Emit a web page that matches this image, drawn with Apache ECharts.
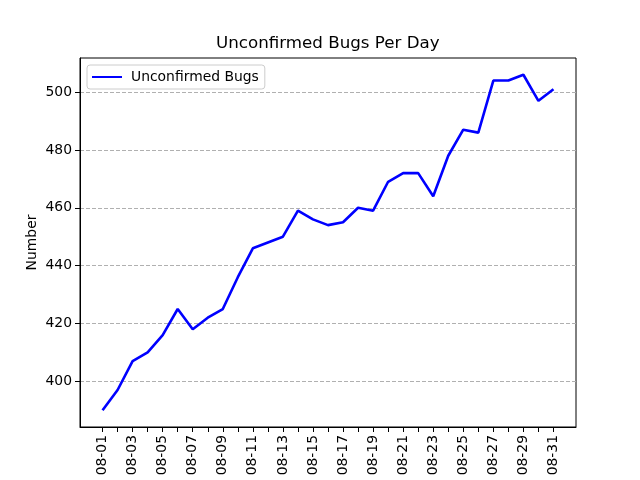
<!DOCTYPE html>
<html>
<head>
<meta charset="utf-8">
<script src="https://cdn.jsdelivr.net/npm/echarts@6/dist/echarts.min.js"></script>
<style>
  html, body { margin: 0; padding: 0; background: #fff; }
  #chart { width: 640px; height: 480px; }
</style>
</head>
<body>
<div id="chart"></div>
<script>
var days = ['08-01', '08-02', '08-03', '08-04', '08-05', '08-06', '08-07', '08-08',
  '08-09', '08-10', '08-11', '08-12', '08-13', '08-14', '08-15', '08-16', '08-17',
  '08-18', '08-19', '08-20', '08-21', '08-22', '08-23', '08-24', '08-25', '08-26',
  '08-27', '08-28', '08-29', '08-30', '08-31'];
var bugs = [390, 397, 407, 410, 416, 425, 418, 422, 425, 436, 446, 448, 450, 459,
  456, 454, 455, 460, 459, 469, 472, 472, 464, 478, 487, 486, 504, 504, 506, 497, 501];
var yTicks = [400, 420, 440, 460, 480, 500];

var font = 'DejaVu Sans';
var points = bugs.map(function(v, i) {
  return [i, v];
});
var allTicks = days.map(function(d, i) {
  return i;
});
var labelTicks = allTicks.filter(function(i) {
  return i % 2 == 0;
});

var chart = echarts.init(document.getElementById('chart'));
chart.setOption({
  animation: false,
  title: {
    text: 'Unconfirmed Bugs Per Day',
    left: 211,
    top: 30,
    textStyle: { fontFamily: font, fontSize: 16.7, fontWeight: 'normal', color: '#000' }
  },
  legend: {
    left: 87,
    top: 65,
    padding: [5, 6, 5, 5],
    borderColor: '#cccccc',
    borderWidth: 1,
    borderRadius: 3,
    itemWidth: 30,
    itemHeight: 2,
    icon: 'rect',
    itemGap: 8,
    textStyle: { fontFamily: font, fontSize: 13.9, color: '#000', padding: [0, 0, 0, 4] },
    data: ['Unconfirmed Bugs']
  },
  grid: {
    left: 80,
    right: 64,
    top: 58,
    bottom: 53,
    show: true,
    borderColor: '#000',
    borderWidth: 1,
    containLabel: false
  },
  xAxis: {
    type: 'value',
    min: -1.5,
    max: 31.5,
    axisLine: { show: true, onZero: false, lineStyle: { color: '#000', width: 1 } },
    axisTick: { show: true, length: 5, customValues: allTicks, lineStyle: { color: '#000' } },
    axisLabel: {
      customValues: labelTicks,
      rotate: 90,
      margin: 8,
      color: '#000',
      fontFamily: font,
      fontSize: 13.9,
      formatter: function(v) {
        return days[v];
      }
    },
    splitLine: { show: false }
  },
  yAxis: {
    type: 'value',
    min: 384.2,
    max: 511.8,
    name: 'Number',
    nameLocation: 'middle',
    nameGap: 41,
    nameMoveOverlap: false,
    nameTextStyle: { fontFamily: font, fontSize: 13.9, color: '#000' },
    axisLine: { show: true, onZero: false, lineStyle: { color: '#000', width: 1 } },
    axisTick: { show: true, length: 5, customValues: yTicks, lineStyle: { color: '#000' } },
    axisLabel: {
      customValues: yTicks,
      margin: 8,
      color: '#000',
      fontFamily: font,
      fontSize: 13.9
    },
    splitLine: {
      show: true,
      lineStyle: { color: '#b0b0b0', type: [4, 2], width: 1 }
    }
  },
  series: [{
    name: 'Unconfirmed Bugs',
    type: 'line',
    data: points,
    showSymbol: false,
    symbol: 'none',
    color: '#0000ff',
    lineStyle: { color: '#0000ff', width: 2.6 }
  }]
});
</script>
</body>
</html>
